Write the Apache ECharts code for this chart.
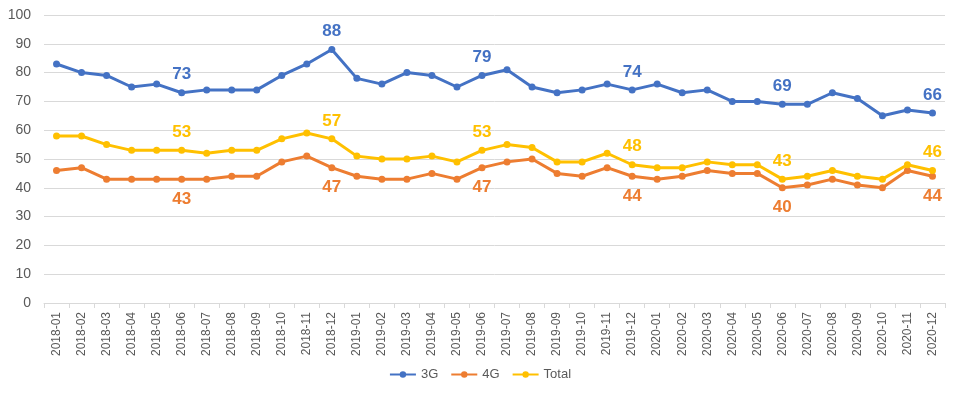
<!DOCTYPE html>
<html><head><meta charset="utf-8">
<script src="https://cdn.jsdelivr.net/npm/echarts@6/dist/echarts.min.js"></script>
<style>html,body{margin:0;padding:0;background:#fff}#c{width:960px;height:394px}</style>
</head><body><div id="c"></div>
<script>
const categories = ['2018-01','2018-02','2018-03','2018-04','2018-05','2018-06','2018-07','2018-08','2018-09','2018-10','2018-11','2018-12',
'2019-01','2019-02','2019-03','2019-04','2019-05','2019-06','2019-07','2019-08','2019-09','2019-10','2019-11','2019-12',
'2020-01','2020-02','2020-03','2020-04','2020-05','2020-06','2020-07','2020-08','2020-09','2020-10','2020-11','2020-12'];
const s3G = [83,80,79,75,76,73,74,74,74,79,83,88,78,76,80,79,75,79,81,75,73,74,76,74,76,73,74,70,70,69,69,73,71,65,67,66];
const s4G = [46,47,43,43,43,43,43,44,44,49,51,47,44,43,43,45,43,47,49,50,45,44,47,44,43,44,46,45,45,40,41,43,41,40,46,44];
const sTotal = [58,58,55,53,53,53,52,53,53,57,59,57,51,50,50,51,49,53,55,54,49,49,52,48,47,47,49,48,48,43,44,46,44,43,48,46];
const labelIdx = [5,11,17,23,29,35];
const yTicks = [0,10,20,30,40,50,60,70,80,90,100];

const FONT = '"Liberation Sans Narrow","Liberation Sans",Arial,sans-serif';
function mk(name, data, color, pos){
  return {
    name, type:'line', data, symbol:'circle', symbolSize:7,
    lineStyle:{width:3,color}, itemStyle:{color},
    label:{show:true, position:pos, distance:pos==='top'?6:8, color, fontSize:17, fontWeight:'bold', fontFamily:FONT,
      formatter:p=>labelIdx.includes(p.dataIndex)?String(p.value):''},
    emphasis:{disabled:true}
  };
}
const chart = echarts.init(document.getElementById('c'));
chart.setOption({
  animation:false,
  grid:{left:44,right:15,top:15,bottom:91},
  legend:{bottom:8,left:'center',itemWidth:26,itemHeight:8,itemGap:12,
    textStyle:{color:'#595959',fontSize:13,fontFamily:FONT},
    data:['3G','4G','Total']},
  xAxis:{type:'category',data:categories,boundaryGap:true,
    axisLine:{lineStyle:{color:'#d9d9d9'}},
    axisTick:{show:true,alignWithLabel:false,length:5,lineStyle:{color:'#d9d9d9'}},
    axisLabel:{rotate:90,interval:0,color:'#595959',fontSize:12,fontFamily:'"Liberation Sans",Arial,sans-serif',margin:9}},
  yAxis:{type:'value',min:0,max:100,interval:10,
    axisLine:{show:false},axisTick:{show:false},
    splitLine:{lineStyle:{color:'#d9d9d9'}},
    axisLabel:{color:'#595959',fontSize:14,fontFamily:FONT,margin:13,
      formatter:v=>yTicks.includes(v)?String(v):''}},
  series:[mk('3G',s3G,'#4472C4','top'),mk('4G',s4G,'#ED7D31','bottom'),mk('Total',sTotal,'#FFC000','top')]
});
</script></body></html>
